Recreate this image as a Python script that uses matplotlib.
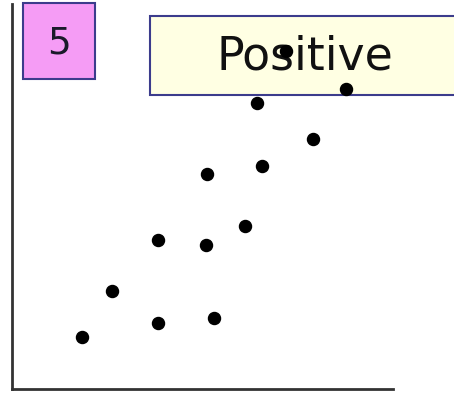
import matplotlib
matplotlib.use('Agg')
import matplotlib.pyplot as plt
from matplotlib.patches import Rectangle

# scatter data (arbitrary units)
x_vals = [1.84, 2.62, 3.83, 3.83, 5.09, 5.30, 5.12, 6.12, 6.56, 6.43, 7.90, 8.77, 7.19]
y_vals = [1.35, 2.55, 1.71, 3.87, 3.74, 1.84, 5.58, 4.23, 5.79, 7.43, 6.49, 7.79, 8.78]

panel_label = '5'
title_text = 'Positive'

W, H = 454, 406
fig = plt.figure(figsize=(W / 100, H / 100), dpi=100)

ax = fig.add_axes([12 / W, (H - 390) / H, 381 / W, 385 / H])
ax.set_xlim(0, 10)
ax.set_ylim(0, 10)
for s in ['top', 'right']:
    ax.spines[s].set_visible(False)
for s in ['left', 'bottom']:
    ax.spines[s].set_linewidth(2)
    ax.spines[s].set_color('#333333')
ax.set_xticks([])
ax.set_yticks([])
ax.patch.set_alpha(0)

# label boxes (figure coords)
fig.patches.append(Rectangle((23 / W, 1 - 80 / H), 72 / W, 76 / H, transform=fig.transFigure,
                             facecolor='#f59cf5', edgecolor='#3c3c8c', linewidth=1.5, zorder=1))
fig.text(59 / W, 1 - 43 / H, panel_label, fontsize=27, ha='center', va='center', color='#1a1a2a')

fig.patches.append(Rectangle((150 / W, 1 - 96 / H), 310 / W, 79 / H, transform=fig.transFigure,
                             facecolor='#ffffe3', edgecolor='#3c3c8c', linewidth=1.5, zorder=1))
fig.text(305 / W, 1 - 57 / H, title_text, fontsize=33, ha='center', va='center', color='#111111')

ax.set_zorder(5)
ax.scatter(x_vals, y_vals, s=75, color='black', zorder=10, clip_on=False)

fig.savefig('out.png', dpi=100)
